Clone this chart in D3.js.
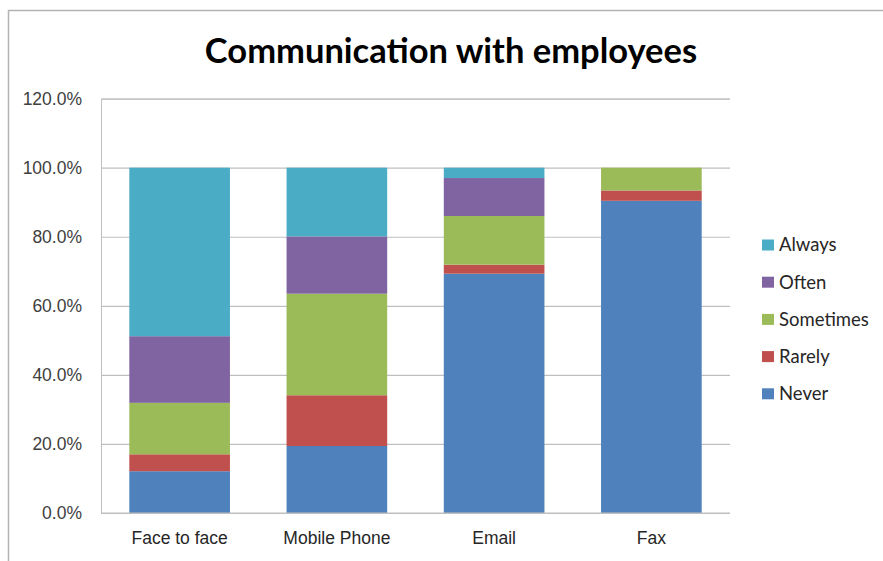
<!DOCTYPE html>
<html>
<head>
<meta charset="utf-8">
<script src="https://cdn.jsdelivr.net/npm/d3@7"></script>
<style>
  html, body { margin: 0; padding: 0; background: #fff; }
  svg { display: block; font-family: Lato, "Open Sans", sans-serif; }
</style>
</head>
<body>
<svg id="chart" width="883" height="561"></svg>
<script>
// Share of respondents per channel (percent), stacked bottom to top
const categories = ["Face to face", "Mobile Phone", "Email", "Fax"];
const seriesNames = ["Never", "Rarely", "Sometimes", "Often", "Always"];
const never     = [12.1, 19.4, 69.3, 90.4];
const rarely    = [4.9, 14.7, 2.6, 3.0];
const sometimes = [14.9, 29.4, 14.1, 6.6];
const often     = [19.3, 16.6, 11.0, 0.0];
const always    = [48.8, 19.9, 3.0, 0.0];
const yTicks = [0, 20, 40, 60, 80, 100, 120];
const colors = ["#4F81BD", "#C0504D", "#9BBB59", "#8064A2", "#4BACC6"];

const seriesValues = [never, rarely, sometimes, often, always];
const rows = categories.map((c, i) => {
  const r = { category: c };
  seriesNames.forEach((s, k) => { r[s] = seriesValues[k][i]; });
  return r;
});

const svg = d3.select("#chart");
const margin = { left: 101, right: 153, top: 98.6, bottom: 48 };
const W = 883, H = 561;
const labelSize = "17.5px";

// outer chart frame
svg.append("rect")
  .attr("x", 8.5).attr("y", 10.5)
  .attr("width", 900).attr("height", 600)
  .attr("fill", "#fff").attr("stroke", "#b3b3b3").attr("stroke-width", 1.5);

const x = d3.scaleBand()
  .domain(categories)
  .range([margin.left, W - margin.right])
  .paddingInner(0.36).paddingOuter(0.18);

const y = d3.scaleLinear()
  .domain([0, 120])
  .range([H - margin.bottom, margin.top]);

const gridColor = "#bfbfbf";

// horizontal gridlines + y labels
const yAxis = d3.axisLeft(y)
  .tickValues(yTicks)
  .tickSize(-(W - margin.right - margin.left))
  .tickPadding(19)
  .tickFormat(d => d.toFixed(1) + "%");

const gy = svg.append("g")
  .attr("transform", `translate(${margin.left},0)`)
  .call(yAxis);
gy.select(".domain").attr("stroke", gridColor);
gy.selectAll(".tick line").attr("stroke", gridColor).attr("stroke-width", 1.2);
gy.selectAll(".tick text")
  .attr("fill", "#404040")
  .style("font-size", labelSize);

// stacked bars
const stack = d3.stack().keys(seriesNames);
const layers = stack(rows);

svg.append("g")
  .selectAll("g")
  .data(layers)
  .join("g")
  .attr("fill", (d, i) => colors[i])
  .selectAll("rect")
  .data(d => d)
  .join("rect")
  .attr("x", d => x(d.data.category))
  .attr("width", x.bandwidth())
  .attr("y", d => y(d[1]))
  .attr("height", d => Math.max(0, y(d[0]) - y(d[1])));

// category axis
const xAxis = d3.axisBottom(x).tickSize(0).tickPadding(19);
const gx = svg.append("g")
  .attr("transform", `translate(0,${y(0)})`)
  .call(xAxis);
gx.select(".domain")
  .attr("stroke", gridColor).attr("stroke-width", 1.2)
  .attr("d", `M${margin.left},0H${W - margin.right}`);
gx.selectAll(".tick text")
  .attr("fill", "#262626")
  .style("font-size", labelSize);

// title
svg.append("text")
  .attr("x", 451).attr("y", 63)
  .attr("text-anchor", "middle")
  .attr("fill", "#000")
  .style("font-size", "34.5px")
  .style("font-weight", "bold")
  .text("Communication with employees");

// legend (top to bottom: Always ... Never)
const legendOrder = seriesNames.map((s, i) => ({ name: s, color: colors[i] })).reverse();
const lg = svg.append("g").attr("transform", "translate(762,245)");
const item = lg.selectAll("g")
  .data(legendOrder)
  .join("g")
  .attr("transform", (d, i) => `translate(0,${i * 37.2})`);
item.append("rect")
  .attr("x", 0).attr("y", -5.5)
  .attr("width", 12).attr("height", 11)
  .attr("fill", d => d.color);
item.append("text")
  .attr("x", 17).attr("y", 0)
  .attr("dy", "0.35em")
  .attr("fill", "#262626")
  .style("font-size", "18.5px")
  .text(d => d.name);
</script>
</body>
</html>
